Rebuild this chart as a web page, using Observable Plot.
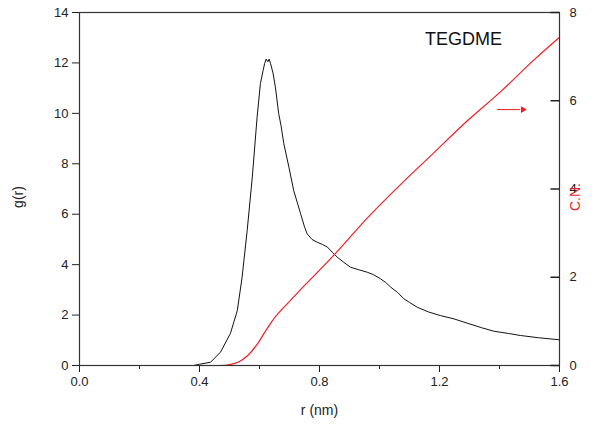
<!DOCTYPE html>
<html>
<head>
<meta charset="utf-8">
<script src="https://cdn.jsdelivr.net/npm/d3@7"></script>
<script src="https://cdn.jsdelivr.net/npm/@observablehq/plot@0.6"></script>
<style>
  html, body { margin: 0; padding: 0; background: #fff; }
  #chart svg { display: block; }
</style>
</head>
<body>
<div id="chart"></div>
<script>
// g(r) radial distribution function
const rG = [0, 0.38, 0.40, 0.437, 0.47, 0.503, 0.526, 0.542, 0.559, 0.576, 0.592, 0.603, 0.612, 0.617, 0.622, 0.628, 0.632, 0.637, 0.645, 0.653, 0.664, 0.672, 0.681, 0.698, 0.714, 0.737, 0.75, 0.759, 0.775, 0.792, 0.81, 0.826, 0.842, 0.859, 0.88, 0.903, 0.93, 0.959, 0.98, 1.003, 1.02, 1.037, 1.06, 1.081, 1.1, 1.126, 1.164, 1.203, 1.248, 1.292, 1.34, 1.381, 1.43, 1.47, 1.53, 1.6];
const gVals = [0, 0, 0.05, 0.13, 0.53, 1.27, 2.18, 3.5, 5.36, 7.47, 9.85, 11.18, 11.7, 11.97, 12.15, 12.05, 12.15, 11.97, 11.6, 11.04, 9.99, 9.5, 8.8, 7.87, 6.94, 6.02, 5.5, 5.22, 5.0, 4.89, 4.8, 4.7, 4.5, 4.3, 4.1, 3.9, 3.8, 3.7, 3.6, 3.44, 3.3, 3.11, 2.9, 2.65, 2.5, 2.31, 2.12, 1.98, 1.85, 1.68, 1.5, 1.36, 1.27, 1.19, 1.1, 1.02];
// running coordination number
const rCN = [0, 0.47, 0.5, 0.53, 0.56, 0.59, 0.62, 0.65, 0.69, 0.737, 0.77, 0.848, 0.959, 1.07, 1.181, 1.292, 1.403, 1.514, 1.6];
const cnVals = [0, 0, 0.02, 0.08, 0.22, 0.46, 0.78, 1.08, 1.38, 1.72, 1.95, 2.5, 3.34, 4.1, 4.82, 5.54, 6.2, 6.92, 7.44];
// axes
const gTicks = [0, 2, 4, 6, 8, 10, 12, 14];
const cnTicks = [0, 2, 4, 6, 8];
const xMajor = [0, 0.4, 0.8, 1.2, 1.6];
const xMinor = [0.2, 0.6, 1.0, 1.4];
const xMax = 1.6, gMax = 14, cnMax = 8;
const k = gMax / cnMax; // maps C.N. onto the g(r) scale
// annotation: arrow pointing to the right axis (data units)
const arrowX = [1.392, 1.468];
const arrowHead = 1.478;
const arrowY = 10.15;

const W = 610, ML = 79, MR = 51;
const tickLen = 9 * xMax / (W - ML - MR); // inward tick length in x units

const gData = rG.map((r, i) => ({r, v: gVals[i]}));
const cnData = rCN.map((r, i) => ({r, v: cnVals[i] * k}));
const cnTickData = cnTicks.map(t => ({y: t * k, x1: xMax - tickLen, x2: xMax}));

const RED = "#f01e23";
const font = "Liberation Sans, Arial, sans-serif";

const plot = Plot.plot({
  width: W,
  height: 430,
  marginLeft: ML,
  marginRight: MR,
  marginTop: 12,
  marginBottom: 65,
  style: {fontFamily: font, fontSize: "13px", color: "#222", background: "#fff"},
  x: {domain: [0, xMax]},
  y: {domain: [0, gMax]},
  marks: [
    Plot.axisY({ticks: gTicks, tickSize: 7, tickPadding: 4, label: null, fontSize: 13}),
    // right axis: labels outside, ticks pointing inward
    Plot.axisY({anchor: "right", ticks: cnTicks.map(d => d * k), tickFormat: d => String(Math.round(d / k)), tickSize: 0, tickPadding: 10, label: null, fontSize: 13}),
    Plot.axisX({ticks: xMajor, tickFormat: d3.format(".1f"), tickSize: 7, tickPadding: 4, label: null, fontSize: 13}),
    Plot.axisX({ticks: xMinor, tickFormat: () => "", tickSize: 4, label: null}),
    Plot.line(gData, {x: "r", y: "v", stroke: "#111", strokeWidth: 1}),
    Plot.line(cnData, {x: "r", y: "v", stroke: RED, strokeWidth: 1.2, curve: "monotone-x"}),
    Plot.frame({stroke: "#333", strokeWidth: 1.2}),
    Plot.link(cnTickData, {x1: "x1", x2: "x2", y1: "y", y2: "y", stroke: "#222", strokeWidth: 1.5}),
    Plot.link([{x1: arrowX[0], x2: arrowX[1], y: arrowY}], {x1: "x1", x2: "x2", y1: "y", y2: "y", stroke: RED, strokeWidth: 1}),
    Plot.dot([{x: arrowHead, y: arrowY}], {x: "x", y: "y", symbol: "triangle2", rotate: 90, r: 3.2, fill: RED, stroke: "none"}),
    Plot.text(["TEGDME"], {frameAnchor: "top-right", dx: -96, dy: 27, textAnchor: "middle", lineAnchor: "middle", fontSize: 18, fill: "#111"}),
    Plot.text(["g(r)"], {frameAnchor: "left", dx: -61, dy: 8, rotate: -90, textAnchor: "middle", lineAnchor: "middle", fontSize: 14, fill: "#222"}),
    Plot.text(["C.N."], {frameAnchor: "right", dx: 16, dy: 8, rotate: -90, textAnchor: "middle", lineAnchor: "middle", fontSize: 14, fill: RED}),
    Plot.text(["r (nm)"], {frameAnchor: "bottom", dy: 45, textAnchor: "middle", lineAnchor: "middle", fontSize: 14, fill: "#222"})
  ]
});
document.getElementById("chart").appendChild(plot);
</script>
</body>
</html>
